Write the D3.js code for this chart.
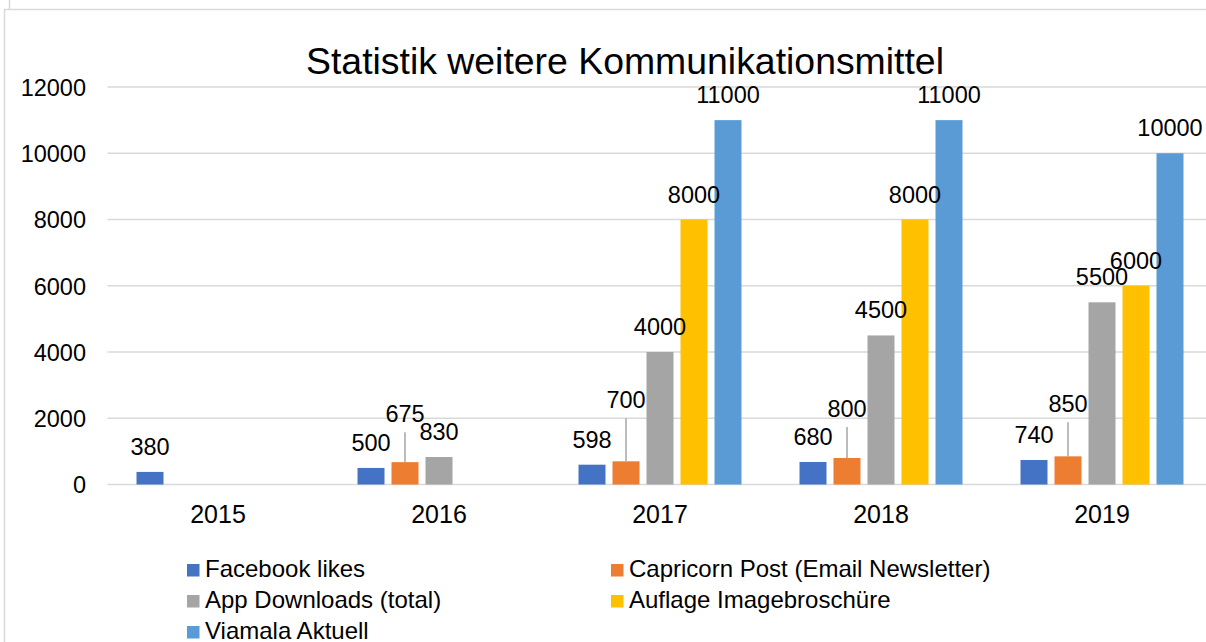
<!DOCTYPE html>
<html>
<head>
<meta charset="utf-8">
<script src="https://cdn.jsdelivr.net/npm/d3@7"></script>
<style>
  body { margin: 0; background: #fff; }
  text { font-family: "Liberation Sans", Arial, sans-serif; fill: #000; }
</style>
</head>
<body>
<div id="chart"></div>
<script>
// Chart data
let years = ["2015", "2016", "2017", "2018", "2019"];
let seriesNames = ["Facebook likes", "Capricorn Post (Email Newsletter)", "App Downloads (total)",
                   "Auflage Imagebroschüre", "Viamala Aktuell"];
let facebookLikes = [380, 500, 598, 680, 740];
let capricornPost = [null, 675, 700, 800, 850];
let appDownloads = [null, 830, 4000, 4500, 5500];
let auflageBroschuere = [null, null, 8000, 8000, 6000];
let viamalaAktuell = [null, null, 11000, 11000, 10000];
let yTicks = [0, 2000, 4000, 6000, 8000, 10000, 12000];

let seriesValues = [facebookLikes, capricornPost, appDownloads, auflageBroschuere, viamalaAktuell];
let colors = ["#4472C4", "#ED7D31", "#A5A5A5", "#FFC000", "#5B9BD5"];

// Extra lift (px) for the Capricorn labels that sit on a leader line
let leaderLift = [0, 23, 36, 24, 27];

// Set height and width for svg
let svgWidth = 1206;
let svgHeight = 642;
let plot = { left: 107.5, right: 1212.5, top: 87, bottom: 484.5 };

let svg = d3.select("#chart")
  .append("svg")
  .attr("width", svgWidth)
  .attr("height", svgHeight);

// Frame of the chart area
svg.append("path")
  .attr("d", `M4.5,${svgHeight} V9.5 H${svgWidth} M9.5,0 V9.5`)
  .attr("fill", "none")
  .attr("stroke", "#d9d9d9")
  .attr("stroke-width", 1.5);

// Scales
let x0 = d3.scaleBand()
  .domain(years)
  .range([plot.left, plot.right])
  .padding(0);

let x1 = d3.scaleBand()
  .domain(seriesNames)
  .range([0, x0.bandwidth()])
  .paddingInner(0.206)
  .paddingOuter(0.853);

let y = d3.scaleLinear()
  .domain([0, 12000])
  .range([plot.bottom, plot.top]);

// Gridlines
svg.append("g")
  .selectAll("line")
  .data(yTicks)
  .enter()
  .append("line")
  .attr("x1", plot.left)
  .attr("x2", svgWidth)
  .attr("y1", d => y(d))
  .attr("y2", d => y(d))
  .attr("stroke", "#d9d9d9")
  .attr("stroke-width", 1.5);

// Y axis labels
let leftAxis = d3.axisLeft(y).tickValues(yTicks).tickSize(0).tickPadding(0).tickFormat(d3.format("d"));
let yAxis = svg.append("g")
  .attr("transform", "translate(86,0)")
  .call(leftAxis);
yAxis.select(".domain").remove();
yAxis.selectAll("text")
  .style("font-size", "23.5px")
  .attr("dy", "0.36em");

// X axis labels
let bottomAxis = d3.axisBottom(x0).tickSize(0).tickPadding(0);
let xAxis = svg.append("g")
  .attr("transform", "translate(0,523)")
  .call(bottomAxis);
xAxis.select(".domain").remove();
xAxis.selectAll("text")
  .style("font-size", "25px")
  .attr("y", 0)
  .attr("dy", 0);

// Flatten into bar records
let bars = [];
seriesNames.forEach((name, s) => {
  years.forEach((yr, i) => {
    let v = seriesValues[s][i];
    if (v !== null) bars.push({ series: name, s: s, year: yr, i: i, value: v });
  });
});

// Bars
svg.append("g")
  .selectAll("rect")
  .data(bars)
  .enter()
  .append("rect")
  .attr("x", d => x0(d.year) + x1(d.series))
  .attr("y", d => y(d.value))
  .attr("width", x1.bandwidth())
  .attr("height", d => y(0) - y(d.value))
  .attr("fill", d => colors[d.s]);

// Leader lines for lifted labels
let lifted = bars.filter(d => d.s === 1 && leaderLift[d.i] > 0);
svg.append("g")
  .selectAll("line")
  .data(lifted)
  .enter()
  .append("line")
  .attr("x1", d => x0(d.year) + x1(d.series) + x1.bandwidth() / 2)
  .attr("x2", d => x0(d.year) + x1(d.series) + x1.bandwidth() / 2)
  .attr("y1", d => y(d.value))
  .attr("y2", d => y(d.value) - 17 - leaderLift[d.i] + 10)
  .attr("stroke", "#a6a6a6")
  .attr("stroke-width", 1.5);

// Data labels
svg.append("g")
  .selectAll("text")
  .data(bars)
  .enter()
  .append("text")
  .attr("x", d => x0(d.year) + x1(d.series) + x1.bandwidth() / 2)
  .attr("y", d => y(d.value) - 17 - (d.s === 1 ? leaderLift[d.i] : 0))
  .attr("text-anchor", "middle")
  .style("font-size", "23.5px")
  .text(d => d.value);

// Title
svg.append("text")
  .attr("x", 625)
  .attr("y", 74)
  .attr("text-anchor", "middle")
  .style("font-size", "37.4px")
  .text("Statistik weitere Kommunikationsmittel");

// Legend
let legend = svg.append("g")
  .selectAll("g")
  .data(seriesNames)
  .enter()
  .append("g")
  .attr("transform", (d, i) => `translate(${i % 2 === 0 ? 187 : 611}, ${576.5 + Math.floor(i / 2) * 31})`);

legend.append("rect")
  .attr("x", 0)
  .attr("y", -12.5)
  .attr("width", 12.5)
  .attr("height", 12.5)
  .attr("fill", (d, i) => colors[i]);

legend.append("text")
  .attr("x", 18)
  .attr("y", 0)
  .style("font-size", "24px")
  .text(d => d);
</script>
</body>
</html>
